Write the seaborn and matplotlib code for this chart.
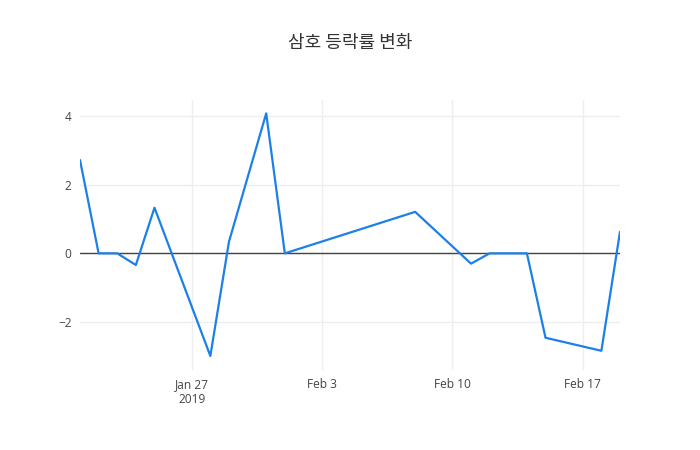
import numpy as np
import pandas as pd
import matplotlib
matplotlib.use("Agg")
import matplotlib.pyplot as plt
import matplotlib.dates as mdates
from matplotlib.ticker import FuncFormatter
import seaborn as sns

# Data
dates = ["2019-01-21", "2019-01-22", "2019-01-23", "2019-01-24", "2019-01-25",
         "2019-01-28", "2019-01-29", "2019-01-31", "2019-02-01", "2019-02-08",
         "2019-02-11", "2019-02-12", "2019-02-14", "2019-02-15", "2019-02-18",
         "2019-02-19"]
change = [2.72, 0.0, 0.0, -0.34, 1.33,
          -2.99, 0.34, 4.08, 0.0, 1.21,
          -0.30, 0.0, 0.0, -2.46, -2.84,
          0.63]
title = "삼호 등락률 변화"

df = pd.DataFrame({"date": pd.to_datetime(dates), "change": change})

sns.set_style("white")
plt.rcParams["font.family"] = ["Open Sans", "Noto Sans CJK KR", "DejaVu Sans"]

fig = plt.figure(figsize=(7, 4.5), dpi=100)
ax = fig.add_axes([80 / 700, 80 / 450, 540 / 700, 270 / 450])

sns.lineplot(data=df, x="date", y="change", ax=ax, color="#1b80e8", linewidth=1.6)

ax.set_xlim(df["date"].min(), df["date"].max())
ax.set_ylim(-3.40, 4.47)
ax.axhline(0, color="#444444", linewidth=1, zorder=1)

ax.set_yticks([-2, 0, 2, 4])
ax.xaxis.set_major_locator(mdates.WeekdayLocator(byweekday=mdates.SU))


def fmt_date(v, pos):
    d = mdates.num2date(v)
    label = d.strftime("%b ") + str(d.day)
    if pos == 0:
        label += "\n" + str(d.year)
    return label


ax.xaxis.set_major_formatter(FuncFormatter(fmt_date))

ax.grid(True, color="#eeeeee", linewidth=1)
ax.set_axisbelow(True)
for s in ax.spines.values():
    s.set_visible(False)
ax.tick_params(length=0, labelsize=8.6, labelcolor="#444444", pad=6)
ax.set_xlabel("")
ax.set_ylabel("")

fig.text(0.5, 1 - 43 / 450, title, ha="center", va="center", fontsize=13,
         color="#333333", family=["Noto Sans CJK KR", "DejaVu Sans"])

fig.savefig("out.png", dpi=100)
